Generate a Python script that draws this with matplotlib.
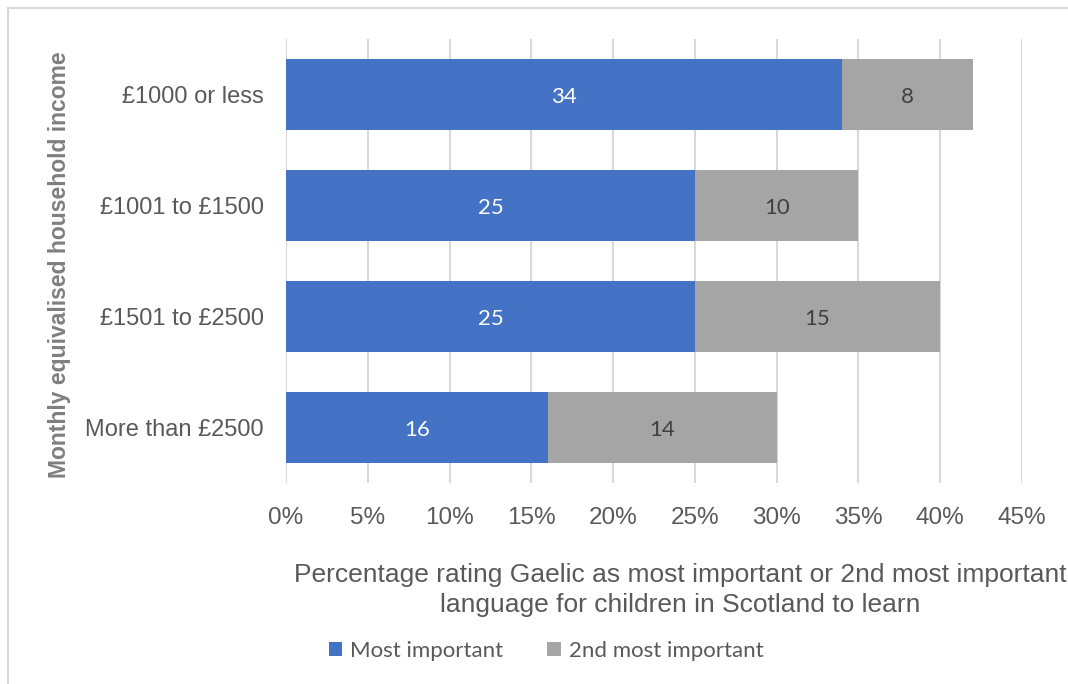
import matplotlib.pyplot as plt
from matplotlib.patches import Rectangle

# data
categories = ["£1000 or less", "£1001 to £1500", "£1501 to £2500", "More than £2500"]
most_important = [34, 25, 25, 16]
second_important = [8, 10, 15, 14]
xticks = [0, 5, 10, 15, 20, 25, 30, 35, 40, 45]

BLUE = "#4472C4"
GREY = "#A5A5A5"
TXT = "#595959"

W, H = 1068, 684
fig = plt.figure(figsize=(W / 100, H / 100), dpi=100)

# outer chart border (clipped at right / bottom like the reference)
fig.patches.append(Rectangle((8 / W, -0.05), 1.1, (H - 8) / H + 0.05,
                             transform=fig.transFigure, fill=False,
                             edgecolor="#D9D9D9", linewidth=1.5))

ax = fig.add_axes([286 / W, 1 - 483 / H, (1022 - 286) / W, (483 - 39) / H])

pos = list(range(len(categories)))
ax.barh(pos, most_important, height=0.64, color=BLUE, label="Most important", zorder=3)
ax.barh(pos, second_important, left=most_important, height=0.64, color=GREY,
        label="2nd most important", zorder=3)

for i in pos:
    a, b = most_important[i], second_important[i]
    ax.text(a / 2, i + 0.02, str(a), ha="center", va="center", color="white",
            fontsize=16, family="Lato", zorder=4)
    ax.text(a + b / 2, i + 0.02, str(b), ha="center", va="center", color="#404040",
            fontsize=16, family="Lato", zorder=4)

ax.set_xlim(0, 45)
ax.set_ylim(3.5, -0.5)
ax.set_xticks(xticks)
ax.set_xticklabels([f"{t}%" for t in xticks], fontsize=17.5, color=TXT,
                   family="Liberation Sans")
ax.set_yticks(pos)
ax.set_yticklabels(categories, fontsize=17, color=TXT, family="Liberation Sans")
ax.tick_params(axis="both", length=0)
ax.tick_params(axis="x", pad=17)
ax.tick_params(axis="y", pad=16)
ax.grid(axis="x", color="#D9D9D9", linewidth=1.5, zorder=0)
for s in ax.spines.values():
    s.set_visible(False)

fig.text(60 / W, 1 - 265 / H, "Monthly equivalised household income", rotation=90,
         ha="center", va="center", fontsize=16.5, fontweight="bold", color="#7F7F7F",
         family="Liberation Sans")

fig.text(680 / W, 1 - 590 / H,
         "Percentage rating Gaelic as most important or 2nd most important\n"
         "language for children in Scotland to learn",
         ha="center", va="center", fontsize=19, color=TXT, family="Liberation Sans",
         linespacing=1.3)

fig.legend(loc="center", bbox_to_anchor=(546 / W, 1 - 651 / H), ncol=2, frameon=False,
           prop={"family": "Lato", "size": 16}, labelcolor=TXT, handlelength=0.6,
           handleheight=0.6, handletextpad=0.35, columnspacing=2.0)

fig.savefig("out.png", dpi=100)
